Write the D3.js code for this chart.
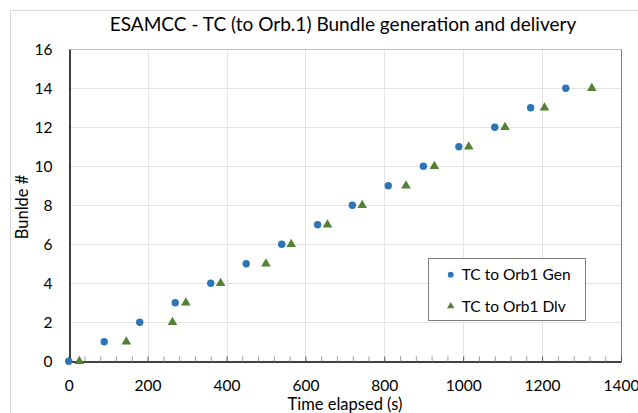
<!DOCTYPE html>
<html><head><meta charset="utf-8">
<script src="https://cdn.jsdelivr.net/npm/d3@7"></script>
<style>html,body{margin:0;padding:0;background:#fff;}svg{display:block;font-family:Lato,"Open Sans",sans-serif;}</style>
</head><body>
<svg id="c" width="638" height="413"></svg>
<script>
const title = "ESAMCC - TC (to Orb.1) Bundle generation and delivery";
const xLabel = "Time elapsed (s)";
const yLabel = "Bunlde #";
const seriesNames = ["TC to Orb1 Gen", "TC to Orb1 Dlv"];
const genTime = [0, 90, 180, 270, 360, 450, 540, 631, 719, 810, 899, 989, 1080, 1171, 1260];
const genBundle = [0, 1, 2, 3, 4, 5, 6, 7, 8, 9, 10, 11, 12, 13, 14];
const dlvTime = [27, 146, 263, 297, 385, 500, 564, 656, 744, 855, 927, 1014, 1106, 1206, 1326];
const dlvBundle = [0, 1, 2, 3, 4, 5, 6, 7, 8, 9, 10, 11, 12, 13, 14];
const xTicks = [0, 200, 400, 600, 800, 1000, 1200, 1400];
const yTicks = [0, 2, 4, 6, 8, 10, 12, 14, 16];

const svg = d3.select("#c");
const L = 68.7, R = 621, T = 49.3, B = 361.3;
const x = d3.scaleLinear().domain([0, 1400]).range([L, R]);
const y = d3.scaleLinear().domain([0, 16]).range([B, T]);
const blue = "#2E75B6", green = "#548235";

// chart frame
svg.append("rect").attr("x", 10.5).attr("y", 10.5).attr("width", 700).attr("height", 500)
  .attr("fill", "#fff").attr("stroke", "#d9d9d9");

// gridlines
svg.append("g").selectAll("line").data(yTicks.slice(1)).join("line")
  .attr("x1", L).attr("x2", R).attr("y1", d => Math.round(y(d)) + 0.5).attr("y2", d => Math.round(y(d)) + 0.5)
  .attr("stroke", "#e3e3e3");
svg.append("g").selectAll("line").data(xTicks.slice(1)).join("line")
  .attr("y1", T).attr("y2", B).attr("x1", d => Math.round(x(d)) + 0.5).attr("x2", d => Math.round(x(d)) + 0.5)
  .attr("stroke", "#e3e3e3");

// plot border top/right
svg.append("line").attr("x1", L).attr("x2", R).attr("y1", Math.round(T)+0.5).attr("y2", Math.round(T)+0.5).attr("stroke", "#bfbfbf");
svg.append("line").attr("x1", Math.round(R)+0.5).attr("x2", Math.round(R)+0.5).attr("y1", T).attr("y2", B).attr("stroke", "#7f7f7f");

// x axis with inward ticks
const minor = d3.range(0, 1401, 40);
const xAxis = d3.axisBottom(x).tickValues(minor).tickSize(0).tickFormat("");
const xg = svg.append("g").attr("transform", `translate(0,${Math.round(B)+0.5})`).call(xAxis);
xg.select(".domain").attr("stroke", "#000").attr("stroke-width", 1.5);
xg.selectAll(".tick line").attr("y2", -5).attr("stroke", d => d % 200 === 0 ? "#555" : "#999");
const xl = d3.axisBottom(x).tickValues(xTicks).tickSize(0).tickPadding(19).tickFormat(d3.format("d"));
const xg2 = svg.append("g").attr("transform", `translate(0,${B})`).call(xl);
xg2.select(".domain").remove();
xg2.selectAll("text").attr("font-size", 15.5).attr("fill", "#000").attr("font-family", "Lato");

// y axis
const yAxis = d3.axisLeft(y).tickValues(yTicks).tickSize(0).tickPadding(17).tickFormat(d3.format("d"));
const yg = svg.append("g").attr("transform", `translate(${Math.round(L)+0.5},0)`).call(yAxis);
yg.select(".domain").attr("stroke", "#000").attr("stroke-width", 1.5);
yg.selectAll("text").attr("font-size", 15.5).attr("fill", "#000").attr("font-family", "Lato");

// data
const gen = genTime.map((t, i) => ({t, b: genBundle[i]}));
const dlv = dlvTime.map((t, i) => ({t, b: dlvBundle[i]}));
svg.append("g").selectAll("circle").data(gen).join("circle")
  .attr("cx", d => x(d.t)).attr("cy", d => y(d.b)).attr("r", 3.7).attr("fill", blue);
const tri = d3.symbol().type(d3.symbolTriangle).size(40);
svg.append("g").selectAll("path").data(dlv).join("path")
  .attr("d", tri).attr("transform", d => `translate(${x(d.t)},${y(d.b)})`).attr("fill", green);

// title
const tt = svg.append("text").attr("x", 343).attr("y", 31).attr("text-anchor", "middle")
  .attr("font-size", 19).attr("fill", "#000").text(title);
const tw = tt.node().getComputedTextLength();
tt.attr("font-size", 19 * 467 / tw);

// axis labels
svg.append("text").attr("x", 345).attr("y", 410).attr("text-anchor", "middle")
  .attr("font-size", 16.5).attr("fill", "#000").text(xLabel);
svg.append("text").attr("transform", "translate(28,207) rotate(-90)").attr("text-anchor", "middle")
  .attr("font-size", 16.5).attr("fill", "#000").text(yLabel);

// legend
const lg = svg.append("g");
lg.append("rect").attr("x", 428.5).attr("y", 258.5).attr("width", 157).attr("height", 62)
  .attr("fill", "#fff").attr("stroke", "#7f7f7f");
lg.append("circle").attr("cx", 450.7).attr("cy", 274.7).attr("r", 2.9).attr("fill", blue);
lg.append("path").attr("d", d3.symbol().type(d3.symbolTriangle).size(24)).attr("transform", "translate(450.7,306.2)").attr("fill", green);
lg.selectAll("text.l").data(seriesNames).join("text").attr("class", "l")
  .attr("x", 461.7).attr("y", (d, i) => 274.7 + i * 32).attr("dy", "0.35em")
  .attr("font-size", 15.5).attr("fill", "#000").text(d => d);
</script>
</body></html>
